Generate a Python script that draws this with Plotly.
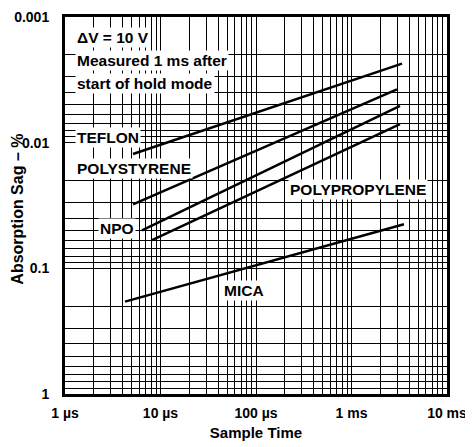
import numpy as np
import plotly.graph_objects as go

# Sample time in microseconds, absorption sag in %
teflon_t = [5.15, 3380]
teflon_sag = [0.0123, 0.00235]
polystyrene_t = [5.15, 2990]
polystyrene_sag = [0.031, 0.00377]
npo_t = [6.4, 3220]
npo_sag = [0.0498, 0.0051]
polypropylene_t = [8.15, 3220]
polypropylene_sag = [0.0597, 0.00711]
mica_t = [4.25, 3540]
mica_sag = [0.184, 0.0446]

x_tickvals = [1, 10, 100, 1000, 10000]
x_ticktext = ["1 µs", "10 µs", "100 µs", "1 ms", "10 ms"]
y_tickvals = [0.001, 0.01, 0.1, 1]
y_ticktext = ["0.001", "0.01", "0.1", "1"]

FONT = "Liberation Sans"

fig = go.Figure()
for t, s in [(teflon_t, teflon_sag), (polystyrene_t, polystyrene_sag),
             (npo_t, npo_sag), (polypropylene_t, polypropylene_sag),
             (mica_t, mica_sag)]:
    fig.add_trace(go.Scatter(x=t, y=s, mode="lines",
                             line=dict(color="black", width=2.5),
                             showlegend=False, hoverinfo="skip"))

x_minor = [m * 10 ** d for d in range(0, 4) for m in range(2, 10)]
y_minor = [m * 10 ** d for d in range(-3, 0) for m in range(2, 10)]

fig.update_xaxes(type="log", range=[0, 4], automargin=False,
                 tickvals=x_tickvals, ticktext=x_ticktext,
                 tickfont=dict(family=FONT, size=14, color="black", weight="bold"),
                 ticklabeloverflow="allow",
                 showgrid=True, gridcolor="black", gridwidth=1,
                 minor=dict(tickvals=x_minor, showgrid=True, gridcolor="black", gridwidth=1, ticks=""),
                 showline=True, linecolor="black", linewidth=3, mirror=True,
                 ticks="", zeroline=False, ticklabelstandoff=4,
                 title=dict(text="Sample Time", font=dict(family=FONT, size=15, color="black", weight="bold"),
                            standoff=8))
fig.update_yaxes(type="log", range=[0, -3], automargin=False,
                 tickvals=y_tickvals, ticktext=y_ticktext,
                 tickfont=dict(family=FONT, size=14, color="black", weight="bold"),
                 ticklabeloverflow="allow",
                 showgrid=True, gridcolor="black", gridwidth=1,
                 minor=dict(tickvals=y_minor, showgrid=True, gridcolor="black", gridwidth=1, ticks=""),
                 showline=True, linecolor="black", linewidth=3, mirror=True,
                 ticks="", zeroline=False, ticklabelstandoff=10)

# y-axis title placed as rotated text so it can sit close to the short tick labels
fig.add_annotation(text="Absorption Sag – %", xref="paper", yref="paper",
                   x=0, y=0.489, xshift=-47, xanchor="center", yanchor="middle",
                   textangle=-90, showarrow=False,
                   font=dict(family=FONT, size=16, color="black", weight="bold"))

labels = [
    ("ΔV = 10 V", 0.105, -2.834),
    ("Measured 1 ms after", 0.105, -2.653),
    ("start of hold mode", 0.105, -2.471),
    ("TEFLON", 0.105, -2.045),
    ("POLYSTYRENE", 0.105, -1.792),
    ("NPO", 0.346, -1.319),
    ("POLYPROPYLENE", 2.335, -1.627),
    ("MICA", 1.644, -0.822),
]
for txt, lx, ly in labels:
    fig.add_annotation(x=lx, y=ly, xref="x", yref="y", text=txt, showarrow=False,
                       xanchor="left", yanchor="middle",
                       font=dict(family=FONT, size=15.5, color="black", weight="bold"),
                       bgcolor="white", borderpad=1)

# the page body has an 8 px default margin; size the figure to fit the window
fig.update_layout(width=465, height=439,
                  margin=dict(l=57, r=26, t=9, b=53),
                  plot_bgcolor="white", paper_bgcolor="white",
                  font=dict(family=FONT, color="black"))

fig.write_html("out.html")
